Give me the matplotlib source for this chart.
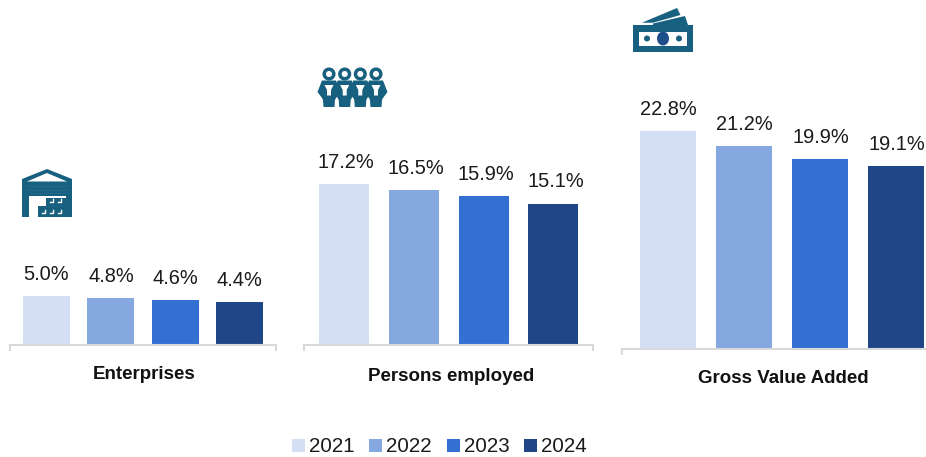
import matplotlib
matplotlib.use("Agg")
import matplotlib.pyplot as plt
from matplotlib.patches import Patch, Polygon, Rectangle, Ellipse, Circle

plt.rcParams['font.family'] = ['Liberation Sans', 'DejaVu Sans']

years = ['2021', '2022', '2023', '2024']
colors = ['#D4DFF5', '#86A8E0', '#3470D1', '#1F4788']
icon_color = '#17607F'

enterprises = [5.0, 4.8, 4.6, 4.4]
persons_employed = [17.2, 16.5, 15.9, 15.1]
gross_value_added = [22.8, 21.2, 19.9, 19.1]

W, H = 926, 457
fig = plt.figure(figsize=(W / 100, H / 100), dpi=100)


def add_panel(values, left, right, baseline, first_center, spacing, bar_px, px_per_unit, label_dx=0):
    # axes boxes are given in pixels of the reference
    ax = fig.add_axes([left / W, 1 - baseline / H, (right - left) / W, baseline / H])
    ax.patch.set_alpha(0)
    ax.set_xlim((left - first_center) / spacing, (right - first_center) / spacing)
    ax.set_ylim(0, baseline / px_per_unit)
    ax.bar(range(4), values, width=bar_px / spacing, color=colors)
    for i, v in enumerate(values):
        ax.annotate(f'{v:.1f}%', (i, v), xytext=(label_dx, 15.6), textcoords='offset points',
                    ha='center', va='center', fontsize=14.4, color='#1a1a1a')
    for s in ['top', 'left', 'right']:
        ax.spines[s].set_visible(False)
    ax.spines['bottom'].set_color('#D9D9D9')
    ax.spines['bottom'].set_linewidth(1.5)
    ax.set_yticks([])
    ax.set_xticks(ax.get_xlim())
    ax.set_xticklabels([])
    ax.tick_params(axis='x', color='#D9D9D9', width=1.5, length=4.5, direction='out')
    return ax


add_panel(enterprises, 10, 276, 345, 46.5, 64.4, 47, 9.8)
add_panel(persons_employed, 304, 593, 345, 344, 69.8, 50, 9.37, label_dx=1.5)
add_panel(gross_value_added, 622, 940, 349, 667.5, 76, 56, 9.56, label_dx=0.7)

# overlay in reference pixels for category names and icons
ov = fig.add_axes([0, 0, 1, 1], zorder=5)
ov.set_xlim(0, W)
ov.set_ylim(H, 0)
ov.axis('off')

bold = dict(fontsize=13.5, fontweight='bold', ha='center', va='center', color='#111111')
ov.text(144.5, 374.5, 'Enterprises', **bold)
ov.text(451.5, 376.5, 'Persons employed', **bold)
ov.text(783.5, 378.5, 'Gross Value Added', **bold)

# warehouse
ov.add_patch(Polygon([(22, 179), (47, 169), (72, 179), (72, 217), (22, 217)], fc=icon_color, ec='none'))
ov.add_patch(Polygon([(27, 181.5), (47, 173), (67, 181.5)], fc='white', ec='none'))
ov.add_patch(Rectangle((29, 196), 37, 21, fc='white', ec='none'))
for y in [186, 189.5, 193]:
    ov.plot([29, 66], [y, y], color='#2A6E8B', lw=0.5)
ov.add_patch(Rectangle((38, 206), 28, 11, fc=icon_color, ec='none'))
ov.add_patch(Rectangle((46, 198), 20, 9, fc=icon_color, ec='none'))
for x, y in [(53, 202), (61, 202), (45, 213), (53, 213), (61, 213)]:
    ov.plot([x - 3, x, x], [y, y, y - 3], color='white', lw=1.0)

# people
people_x = [329, 344.7, 360.3, 376]
for cx in people_x:
    ov.add_patch(Circle((cx, 74), 4.8, fc='white', ec=icon_color, lw=2.5))
    ov.add_patch(Polygon([(cx - 7, 80.5), (cx + 7, 80.5), (cx + 11.5, 92), (cx + 7, 98), (cx + 6, 100),
                          (cx + 5.5, 107), (cx - 5.5, 107), (cx - 6, 100), (cx - 7, 98), (cx - 11.5, 92)],
                         fc=icon_color, ec='none'))
for cx in people_x:
    ov.add_patch(Polygon([(cx - 4.5, 85), (cx + 4.5, 85), (cx + 2, 90), (cx + 2, 95.5), (cx - 2, 95.5), (cx - 2, 90)],
                         fc='white', ec='none'))

# banknotes
ov.add_patch(Polygon([(642, 22.7), (677, 8), (680.5, 15), (653, 22.7)], fc=icon_color, ec='none'))
ov.add_patch(Polygon([(653, 23.5), (685, 16), (688, 25), (653, 25)], fc=icon_color, ec='none'))
ov.add_patch(Rectangle((633, 25), 60, 27, fc=icon_color, ec='none'))
ov.add_patch(Rectangle((639, 32), 48, 14, fc='white', ec='none'))
ov.add_patch(Ellipse((663, 38.5), 12, 14, fc='#1F4E8C', ec='none'))
ov.add_patch(Circle((647, 38.5), 3, fc=icon_color, ec='none'))
ov.add_patch(Circle((679, 38.5), 3, fc=icon_color, ec='none'))

handles = [Patch(facecolor=c, edgecolor='none', label=y) for c, y in zip(colors, years)]
fig.legend(handles=handles, loc='center', bbox_to_anchor=(439.5 / W, 1 - 447 / H), ncols=4,
           frameon=False, fontsize=14.8, handlelength=0.63, handleheight=0.63,
           handletextpad=0.2, columnspacing=0.72, labelcolor='#1a1a1a',
           borderpad=0, borderaxespad=0)

fig.savefig('out.png', dpi=100)
